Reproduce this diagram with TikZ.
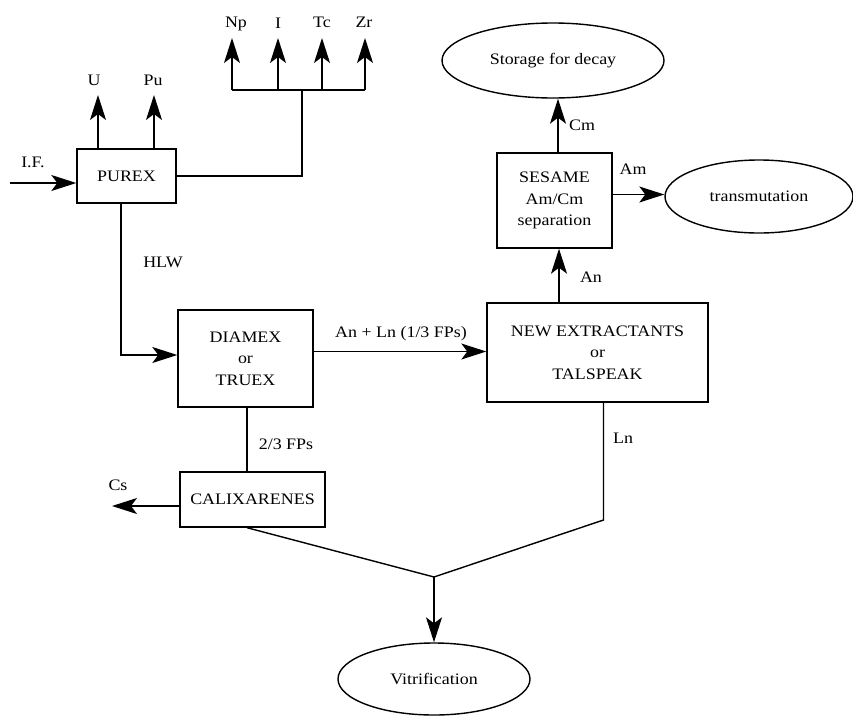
\documentclass[tikz,border=0pt]{standalone}
\usepackage{fontspec}
\setmainfont{Liberation Serif}[FakeStretch=1.12]
\usetikzlibrary{arrows.meta,shapes.geometric}

\tikzset{
  proc/.style={draw, line width=1.4pt, align=center, inner sep=0pt},
  sink/.style={draw, ellipse, line width=1.4pt, inner sep=0pt},
  flow/.style={line width=1.4pt, -{Stealth[length=25pt,width=16pt,inset=6pt]}},
  pipe/.style={line width=1.4pt},
}

\begin{document}
\begin{tikzpicture}[x=1pt,y=-1pt,font=\fontsize{16}{21.5}\selectfont]
        \useasboundingbox (0,0) rectangle (853,715);

        % process boxes
        \node[proc, minimum width=99pt, minimum height=54pt] (purex) at (126.5,176) {PUREX};
        \node[proc, minimum width=135pt, minimum height=97pt] (diamex) at (245.5,358.5) {DIAMEX\\or\\TRUEX};
        \node[proc, minimum width=221pt, minimum height=99pt] (newex) at (597.5,352.5) {NEW EXTRACTANTS\\or\\TALSPEAK};
        \node[proc, minimum width=145pt, minimum height=55pt] (calix) at (252.5,499.5) {CALIXARENES};
        \node[proc, minimum width=115pt, minimum height=95pt] (sesame) at (554.5,200.5) {SESAME\\Am/Cm\\separation};

        % end points
        \node[sink, minimum width=222pt, minimum height=75pt] (storage) at (553,60.5) {Storage for decay};
        \node[sink, minimum width=188pt, minimum height=73pt] (trans) at (759,196.5) {transmutation};
        \node[sink, minimum width=192pt, minimum height=72pt] (vitri) at (434,679) {Vitrification};

        % PUREX feed and products
        \coordinate (feed) at (10,183);
        \draw[flow] (feed) -- (feed -| purex.west);
        \node (iflbl) at (33,162) {I.F.};

        \coordinate (u) at (98,95);
        \coordinate (pu) at (154,95);
        \draw[flow] (u |- purex.north) -- (u);
        \draw[flow] (pu |- purex.north) -- (pu);
        \node (ulbl) at (94,80) {U};
        \node (pulbl) at (153,80) {Pu};

        \coordinate (split) at (302,90);
        \draw[pipe] (purex.east) -| (split);
        \foreach \nm/\x in {np/232,iod/278,tc/322,zr/365}
                \coordinate (\nm) at (\x,38);
        \draw[pipe] (np |- split) -- (zr |- split);
        \foreach \nm in {np,iod,tc,zr}
                \draw[flow] (\nm |- split) -- (\nm);
        \node (nplbl) at (236,24) {Np};
        \node (iodlbl) at (278,23) {I};
        \node (tclbl) at (322,22) {Tc};
        \node (zrlbl) at (364,22) {Zr};

        % HLW to DIAMEX
        \draw[flow] ([xshift=-5.5pt]purex.south) |- ([yshift=3.5pt]diamex.west);
        \node (hlwlbl) at (163,262) {HLW};

        % DIAMEX to new extractants
        \draw[flow] ([yshift=7pt]diamex.east) -- ([yshift=7pt]diamex.east -| newex.west);
        \node (anlnlbl) at (401,334) {An + Ln (1/3 FPs)};

        % fission products to CALIXARENES
        \draw[pipe] ([xshift=1.5pt]diamex.south) -- ([xshift=1.5pt]diamex.south |- calix.north);
        \node (fplbl) at (286,444) {2/3 FPs};

        \coordinate (cs) at (112,506);
        \draw[flow] (cs -| calix.west) -- (cs);
        \node (cslbl) at (118,485) {Cs};

        % streams to vitrification
        \coordinate (join) at (434,577);
        \coordinate (lnbend) at (603.5,520);
        \draw[pipe] ([xshift=-5.5pt]calix.south) -- (join);
        \draw[pipe] (newex.south -| lnbend) -- (lnbend) -- (join);
        \draw[flow] (join) -- (vitri.north);
        \node (lnlbl) at (623,438) {Ln};

        % actinides to SESAME
        \draw[flow] ([xshift=4.5pt]sesame.south |- newex.north) -- ([xshift=4.5pt]sesame.south);
        \node (anlbl) at (591,277) {An};

        \draw[flow] ([xshift=3.5pt]sesame.north) -- ([xshift=3.5pt]sesame.north |- storage.south);
        \node (cmlbl) at (582,125) {Cm};

        \draw[flow] ([yshift=6pt]sesame.east) -- ([yshift=6pt]sesame.east -| trans.west);
        \node (amlbl) at (633,169) {Am};
\end{tikzpicture}
\end{document}
